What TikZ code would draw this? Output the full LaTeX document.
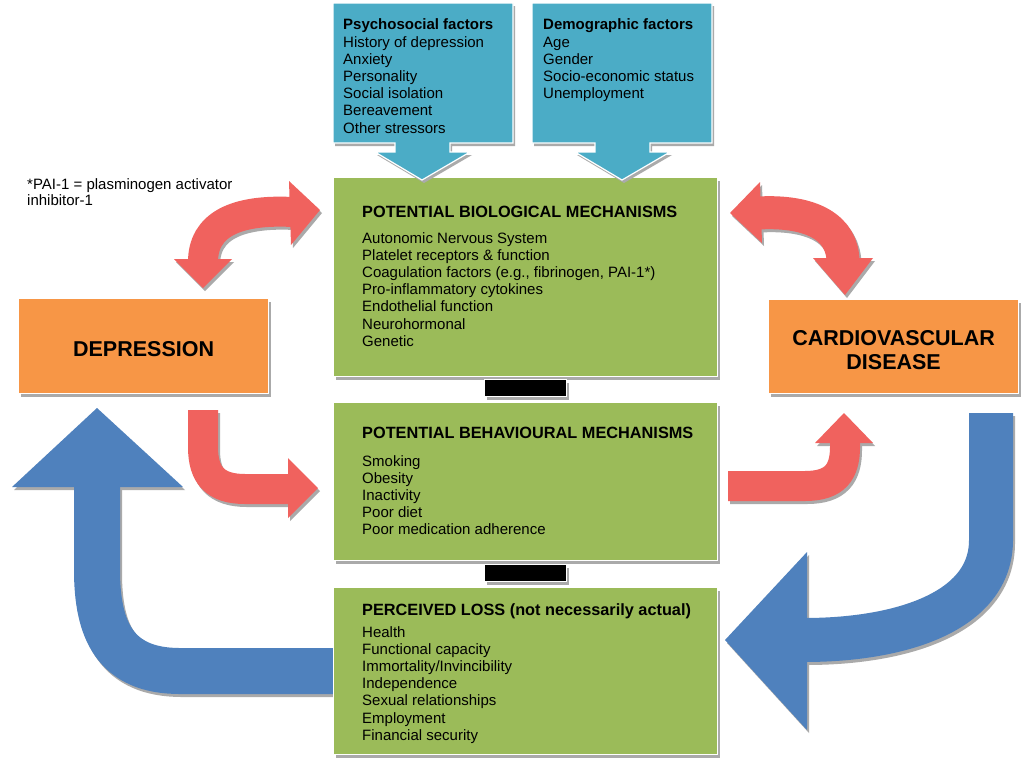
\documentclass[tikz,border=0pt]{standalone}
\usepackage{fontspec}
\setmainfont{Liberation Sans}
\usetikzlibrary{shadows}
\definecolor{teal1}{HTML}{4BACC6}
\definecolor{green1}{HTML}{9BBB59}
\definecolor{orange1}{HTML}{F79646}
\definecolor{blue1}{HTML}{4F81BD}
\definecolor{red1}{RGB}{240,98,94}
\definecolor{shadow1}{RGB}{170,170,170}
\newcommand\arrowDepBio[1]{%
  \draw[#1, line width=30] (203,262) .. controls (203,225) and (235,209) .. (293,212);
  \fill[#1] (174,259) -- (203,288) -- (232,259) -- cycle;
  \fill[#1] (289,181) -- (320,210) -- (291,245) -- cycle;}
\newcommand\arrowBioCvd[1]{%
  \draw[#1, line width=33] (758,213) .. controls (812,210) and (843,228) .. (843,262);
  \fill[#1] (760,182) -- (730,213) -- (762,243) -- cycle;
  \fill[#1] (813,258) -- (845,295) -- (873,258) -- cycle;}
\newcommand\arrowDepBeh[1]{%
  \draw[#1, line width=30] (203,410) -- (203,447) .. controls (203,475) and (215,489) .. (245,489) -- (291,489);
  \fill[#1] (288,458) -- (318,488) -- (288,518) -- cycle;}
\newcommand\arrowBehCvd[1]{%
  \draw[#1, line width=30] (728,486) -- (805,486) .. controls (835,486) and (845,472) .. (845,447) -- (845,440);
  \fill[#1] (815,443) -- (844,413) -- (873,443) -- cycle;}
\newcommand\arrowCvdLoss[1]{%
  \draw[#1, line width=44] (991,413) -- (991,540) .. controls (991,612) and (900,640) .. (804,640);
  \fill[#1] (807,552) -- (725,640) -- (807,730) -- cycle;}
\newcommand\arrowLossDep[1]{%
  \draw[#1, line width=46] (335,671) -- (180,671) .. controls (115,671) and (97,630) .. (97,570) -- (97,484);
  \fill[#1] (12,487) -- (97,408) -- (183,487) -- cycle;}
\newcommand\calloutPsy{(333,3) -- (513,3) -- (513,143) -- (450,143) -- (450,152) -- (470,152) -- (422,180) -- (375,152) -- (395,152) -- (395,143) -- (333,143) -- cycle}
\newcommand\calloutDem{(532,3) -- (712,3) -- (712,143) -- (650,143) -- (650,152) -- (670,152) -- (622,180) -- (575,152) -- (595,152) -- (595,143) -- (532,143) -- cycle}
\begin{document}
\begin{tikzpicture}[x=1pt,y=-1pt,
  box/.style={draw=white, line width=1.2pt, inner sep=0pt, anchor=north west,
    drop shadow={shadow xshift=2pt, shadow yshift=-3pt, fill=shadow1, opacity=1}},
  greenbox/.style={box, fill=green1, minimum width=384, minimum height=#1},
  barbox/.style={box, fill=black, minimum width=82, minimum height=17},
  orangebox/.style={box, fill=orange1, minimum width=250, minimum height=95},
  bigtext/.style={inner sep=0pt, align=center, font=\bfseries\fontsize{21.5}{24}\selectfont},
  title/.style={anchor=base west, inner sep=0pt, font=\bfseries\fontsize{16.3}{19}\selectfont},
  smalltitle/.style={anchor=base west, inner sep=0pt, font=\bfseries\fontsize{15}{17}\selectfont},
  list/.style={anchor=base west, inner sep=0pt, align=left, font=\fontsize{15}{17.2}\selectfont}]
\useasboundingbox (0,0) rectangle (1024,761);
\fill[white] (0,0) rectangle (1024,761);

% arrow shadows
\begin{scope}[shift={(2,3)}]
  \arrowDepBio{shadow1}\arrowBioCvd{shadow1}\arrowDepBeh{shadow1}
  \arrowBehCvd{shadow1}\arrowCvdLoss{shadow1}\arrowLossDep{shadow1}
\end{scope}
% arrows
\arrowDepBio{red1}\arrowBioCvd{red1}\arrowDepBeh{red1}\arrowBehCvd{red1}
\arrowCvdLoss{blue1}\arrowLossDep{blue1}

% boxes
\node[orangebox] (dep) at (18,298) {};
\node[bigtext] (deptext) at ([yshift=-3pt]dep.center) {DEPRESSION};
\node[orangebox, minimum height=94] (cvd) at (768,299) {};
\node[bigtext] (cvdtext) at ([yshift=-3pt]cvd.center) {CARDIOVASCULAR\\DISEASE};
\node[greenbox=199] (bio) at (333,177) {};
\node[barbox] (bar1) at (484,379) {};
\node[greenbox=158] (beh) at (333,402) {};
\node[barbox] (bar2) at (484,564) {};
\node[greenbox=167] (loss) at (333,587) {};

% callouts
\fill[shadow1, shift={(2,3)}] \calloutPsy;
\fill[shadow1, shift={(2,3)}] \calloutDem;
\draw[white, line width=1.2pt, fill=teal1] \calloutPsy;
\draw[white, line width=1.2pt, fill=teal1] \calloutDem;

% texts (multi-line nodes: base = baseline of last line)
\node[smalltitle] (psyt) at (343,29) {Psychosocial factors};
\node[list] (psyl) at (343,133) {History of depression\\Anxiety\\Personality\\Social isolation\\Bereavement\\Other stressors};
\node[smalltitle] (demt) at (543,29) {Demographic factors};
\node[list] (deml) at (543,98.6) {Age\\Gender\\Socio-economic status\\Unemployment};

\node[list, font=\fontsize{15}{16.5}\selectfont] (note) at (27,205.5) {*PAI-1 = plasminogen activator\\inhibitor-1};

\node[title] (biot) at (362,217) {POTENTIAL BIOLOGICAL MECHANISMS};
\node[list] (biol) at (362,346.2) {Autonomic Nervous System\\Platelet receptors \& function\\Coagulation factors (e.g., fibrinogen, PAI-1*)\\Pro-inflammatory cytokines\\Endothelial function\\Neurohormonal\\Genetic};

\node[title] (beht) at (362,438) {POTENTIAL BEHAVIOURAL MECHANISMS};
\node[list] (behl) at (362,534.8) {Smoking\\Obesity\\Inactivity\\Poor diet\\Poor medication adherence};

\node[title] (losst) at (362,615) {PERCEIVED LOSS (not necessarily actual)};
\node[list] (lossl) at (362,740.2) {Health\\Functional capacity\\Immortality/Invincibility\\Independence\\Sexual relationships\\Employment\\Financial security};
\end{tikzpicture}
\end{document}
